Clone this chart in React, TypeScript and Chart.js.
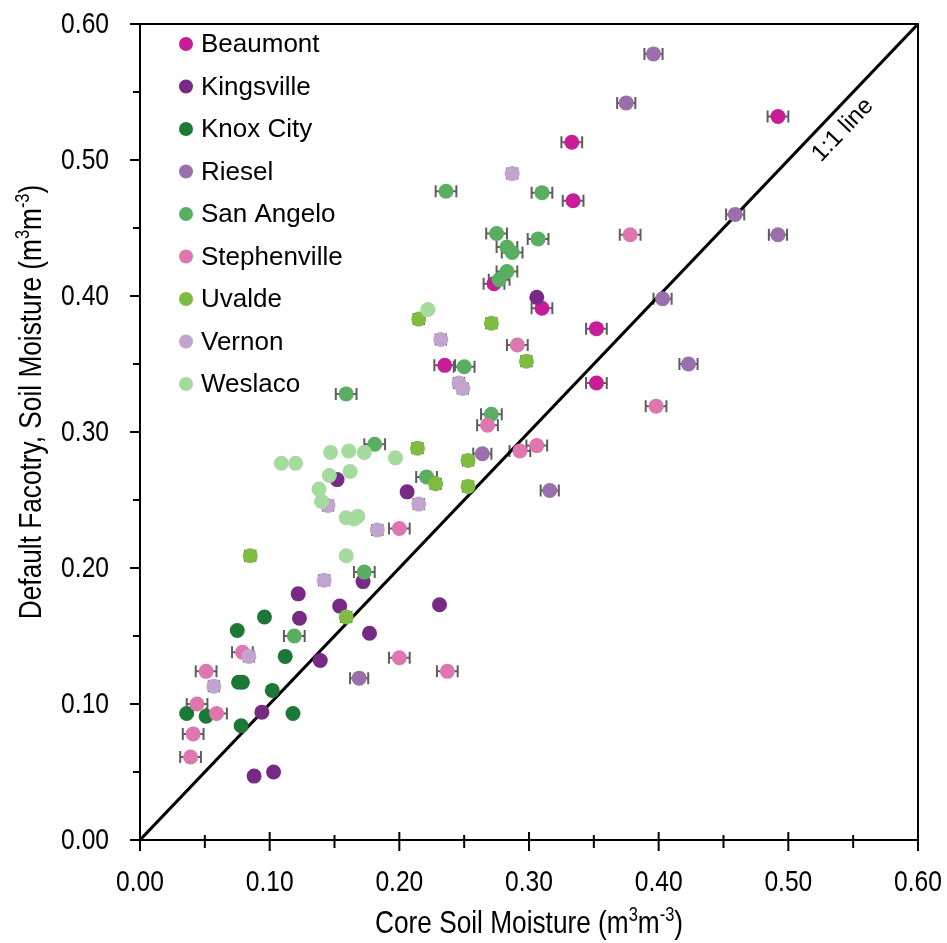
import React, { useEffect, useRef } from 'react';
import { Chart, registerables } from 'chart.js';

Chart.register(...registerables);

const seriesNames = ['Beaumont', 'Kingsville', 'Knox City', 'Riesel', 'San Angelo', 'Stephenville', 'Uvalde', 'Vernon', 'Weslaco'];
const seriesColors = ['#C81D96', '#762A83', '#1B7837', '#9970AB', '#5AAE61', '#DE77AE', '#7FBC41', '#C2A5CF', '#A6DBA0'];
const seriesErr = [0.008, 0, 0, 0.007, 0.008, 0.008, 0.004, 0.004, 0];

const beaumontX = [0.492, 0.333, 0.334, 0.273, 0.310, 0.352, 0.235, 0.352];
const beaumontY = [0.532, 0.513, 0.470, 0.409, 0.391, 0.376, 0.349, 0.336];

const kingsvilleX = [0.306, 0.152, 0.206, 0.172, 0.122, 0.154, 0.231, 0.123, 0.177, 0.139, 0.094, 0.088, 0.103];
const kingsvilleY = [0.399, 0.265, 0.256, 0.190, 0.181, 0.172, 0.173, 0.163, 0.152, 0.132, 0.094, 0.047, 0.050];

const knoxX = [0.096, 0.075, 0.112, 0.076, 0.079, 0.102, 0.036, 0.051, 0.118, 0.078];
const knoxY = [0.164, 0.154, 0.135, 0.116, 0.116, 0.110, 0.093, 0.091, 0.093, 0.084];

const rieselX = [0.396, 0.375, 0.459, 0.492, 0.403, 0.423, 0.264, 0.316, 0.169];
const rieselY = [0.578, 0.542, 0.460, 0.445, 0.398, 0.350, 0.284, 0.257, 0.119];

const sanAngeloX = [0.236, 0.310, 0.275, 0.307, 0.283, 0.287, 0.283, 0.277, 0.250, 0.159, 0.271, 0.181, 0.221, 0.173, 0.119];
const sanAngeloY = [0.477, 0.476, 0.446, 0.442, 0.436, 0.432, 0.418, 0.412, 0.348, 0.328, 0.313, 0.291, 0.267, 0.197, 0.150];

const stephenvilleX = [0.378, 0.291, 0.398, 0.268, 0.306, 0.293, 0.200, 0.200, 0.237, 0.079, 0.051, 0.044, 0.059, 0.041, 0.039];
const stephenvilleY = [0.445, 0.364, 0.319, 0.305, 0.290, 0.286, 0.229, 0.134, 0.124, 0.138, 0.124, 0.100, 0.093, 0.078, 0.061];

const uvaldeX = [0.215, 0.271, 0.298, 0.214, 0.253, 0.228, 0.253, 0.085, 0.159];
const uvaldeY = [0.383, 0.380, 0.352, 0.288, 0.279, 0.262, 0.260, 0.209, 0.164];

const vernonX = [0.287, 0.232, 0.246, 0.249, 0.215, 0.183, 0.145, 0.142, 0.084, 0.057];
const vernonY = [0.490, 0.368, 0.336, 0.332, 0.247, 0.228, 0.246, 0.191, 0.135, 0.113];

const weslacoX = [0.222, 0.197, 0.109, 0.120, 0.147, 0.161, 0.173, 0.146, 0.162, 0.138, 0.140, 0.159, 0.165, 0.168, 0.159];
const weslacoY = [0.390, 0.281, 0.277, 0.277, 0.285, 0.286, 0.285, 0.268, 0.271, 0.258, 0.249, 0.237, 0.236, 0.238, 0.209];

const seriesX = [beaumontX, kingsvilleX, knoxX, rieselX, sanAngeloX, stephenvilleX, uvaldeX, vernonX, weslacoX];
const seriesY = [beaumontY, kingsvilleY, knoxY, rieselY, sanAngeloY, stephenvilleY, uvaldeY, vernonY, weslacoY];

const axisMin = 0;
const axisMax = 0.6;
const majorStep = 0.1;
const minorStep = 0.05;
const xTitle = ['Core Soil Moisture (m', '3', 'm', '-3', ')'];
const yTitle = ['Default Facotry, Soil Moisture (m', '3', 'm', '-3', ')'];
const lineLabel = '1:1 line';

const REGULAR = "'Liberation Sans', Arial, sans-serif";
const NARROW_SCALE = 0.82;

function drawSupText(ctx: CanvasRenderingContext2D, parts: string[], cx: number, cy: number, size: number) {
  const supSize = Math.round(size * 0.62);
  const widths = parts.map((p, i) => {
    ctx.font = `${i % 2 === 1 ? supSize : size}px ${REGULAR}`;
    return ctx.measureText(p).width;
  });
  const total = widths.reduce((a, b) => a + b, 0);
  ctx.save();
  ctx.translate(cx, cy);
  ctx.scale(NARROW_SCALE, 1);
  let x = -total / 2;
  ctx.textBaseline = 'alphabetic';
  ctx.textAlign = 'left';
  parts.forEach((p, i) => {
    const sup = i % 2 === 1;
    ctx.font = `${sup ? supSize : size}px ${REGULAR}`;
    ctx.fillText(p, x, size * 0.36 - (sup ? size * 0.36 : 0));
    x += widths[i];
  });
  ctx.restore();
}

function drawNarrow(ctx: CanvasRenderingContext2D, text: string, x: number, y: number, size: number, align: CanvasTextAlign, baseline: CanvasTextBaseline) {
  ctx.save();
  ctx.translate(x, y);
  ctx.scale(NARROW_SCALE, 1);
  ctx.font = `${size}px ${REGULAR}`;
  ctx.textAlign = align;
  ctx.textBaseline = baseline;
  ctx.fillText(text, 0, 0);
  ctx.restore();
}

const customPlugin = {
  id: 'custom',
  beforeDatasetsDraw(chart: any) {
    const ctx = chart.ctx as CanvasRenderingContext2D;
    const xs = chart.scales.x;
    const ys = chart.scales.y;
    ctx.save();
    ctx.strokeStyle = '#5e5e5e';
    ctx.lineWidth = 2;
    chart.data.datasets.forEach((ds: any) => {
      const e = ds.xErr;
      if (!e) return;
      ds.data.forEach((p: any) => {
        const x0 = xs.getPixelForValue(p.x - e);
        const x1 = xs.getPixelForValue(p.x + e);
        const y = ys.getPixelForValue(p.y);
        ctx.beginPath();
        ctx.moveTo(x0, y);
        ctx.lineTo(x1, y);
        ctx.moveTo(x0, y - 6);
        ctx.lineTo(x0, y + 6);
        ctx.moveTo(x1, y - 6);
        ctx.lineTo(x1, y + 6);
        ctx.stroke();
      });
    });
    ctx.restore();
  },
  afterDraw(chart: any) {
    const ctx = chart.ctx as CanvasRenderingContext2D;
    const xs = chart.scales.x;
    const ys = chart.scales.y;
    const ca = chart.chartArea;
    ctx.save();
    ctx.strokeStyle = '#000';
    ctx.fillStyle = '#000';
    ctx.lineWidth = 2;
    ctx.beginPath();
    ctx.moveTo(ca.left - 10, ca.top);
    ctx.lineTo(ca.right, ca.top);
    ctx.lineTo(ca.right, ca.bottom + 11);
    ctx.stroke();
    for (let v = axisMin; v <= axisMax + 1e-9; v += minorStep) {
      const major = Math.abs(v / majorStep - Math.round(v / majorStep)) < 1e-6;
      const px = xs.getPixelForValue(v);
      ctx.beginPath();
      ctx.moveTo(px, ca.bottom - (major ? 8 : 5));
      ctx.lineTo(px, ca.bottom + (major ? 11 : 8));
      ctx.stroke();
      const py = ys.getPixelForValue(v);
      ctx.beginPath();
      ctx.moveTo(ca.left - (major ? 10 : 7), py);
      ctx.lineTo(ca.left, py);
      ctx.stroke();
    }
    xs.ticks.forEach((t: any) => {
      drawNarrow(ctx, Number(t.value).toFixed(2), xs.getPixelForValue(t.value), ca.bottom + 28, 30, 'center', 'top');
    });
    ys.ticks.forEach((t: any) => {
      drawNarrow(ctx, Number(t.value).toFixed(2), ca.left - 31, ys.getPixelForValue(t.value) + 1, 30, 'right', 'middle');
    });
    seriesNames.forEach((name, i) => {
      const y = ca.top + 20 + i * 42.5;
      ctx.fillStyle = seriesColors[i];
      ctx.beginPath();
      ctx.arc(ca.left + 46, y, 7, 0, Math.PI * 2);
      ctx.fill();
      ctx.fillStyle = '#000';
      ctx.font = `26px ${REGULAR}`;
      ctx.textAlign = 'left';
      ctx.textBaseline = 'middle';
      ctx.fillText(name, ca.left + 61, y + 1);
    });
    const lx = xs.getPixelForValue(0.542);
    const ly = ys.getPixelForValue(0.522);
    const ang = Math.atan2(ys.getPixelForValue(0) - ys.getPixelForValue(0.6), xs.getPixelForValue(0.6) - xs.getPixelForValue(0));
    ctx.save();
    ctx.translate(lx, ly);
    ctx.rotate(-ang);
    ctx.font = `24px ${REGULAR}`;
    ctx.textAlign = 'center';
    ctx.textBaseline = 'middle';
    ctx.fillText(lineLabel, 0, 0);
    ctx.restore();
    drawSupText(ctx, xTitle, (ca.left + ca.right) / 2, 921, 32);
    ctx.save();
    ctx.translate(29, 402);
    ctx.rotate(-Math.PI / 2);
    drawSupText(ctx, yTitle, 0, 0, 32);
    ctx.restore();
    ctx.restore();
  },
};

export default function App() {
  const ref = useRef<HTMLCanvasElement | null>(null);
  useEffect(() => {
    if (!ref.current) return;
    const datasets: any[] = seriesNames.map((name, i) => ({
      type: 'scatter',
      label: name,
      data: seriesX[i].map((x, j) => ({ x, y: seriesY[i][j] })),
      backgroundColor: seriesColors[i],
      borderWidth: 0,
      pointRadius: 7.5,
      pointHoverRadius: 7.5,
      xErr: seriesErr[i],
      order: 100 - i,
    }));
    datasets.push({
      type: 'line',
      label: '1:1',
      data: [{ x: axisMin, y: axisMin }, { x: axisMax, y: axisMax }],
      borderColor: '#000',
      borderWidth: 3,
      pointRadius: 0,
      fill: false,
      order: 1000,
    });
    const chart = new Chart(ref.current, {
      type: 'scatter',
      data: { datasets },
      plugins: [customPlugin],
      options: {
        animation: false,
        responsive: false,
        layout: { padding: { top: 24, right: 29, left: 0, bottom: 0 } },
        plugins: { legend: { display: false }, tooltip: { enabled: false } },
        scales: {
          x: {
            type: 'linear',
            min: axisMin,
            max: axisMax,
            afterFit: (s: any) => { s.height = 103; },
            grid: { drawOnChartArea: false, drawTicks: false },
            border: { color: '#000', width: 2 },
            ticks: { stepSize: majorStep, display: false },
          },
          y: {
            type: 'linear',
            min: axisMin,
            max: axisMax,
            afterFit: (s: any) => { s.width = 140; },
            grid: { drawOnChartArea: false, drawTicks: false },
            border: { color: '#000', width: 2 },
            ticks: { stepSize: majorStep, display: false },
          },
        },
      } as any,
    });
    return () => chart.destroy();
  }, []);
  return (
    <div style={{ position: 'absolute', left: 0, top: 0, width: 947, height: 943, background: '#fff' }}>
      <canvas ref={ref} width={947} height={943} style={{ width: 947, height: 943 }} />
    </div>
  );
}
